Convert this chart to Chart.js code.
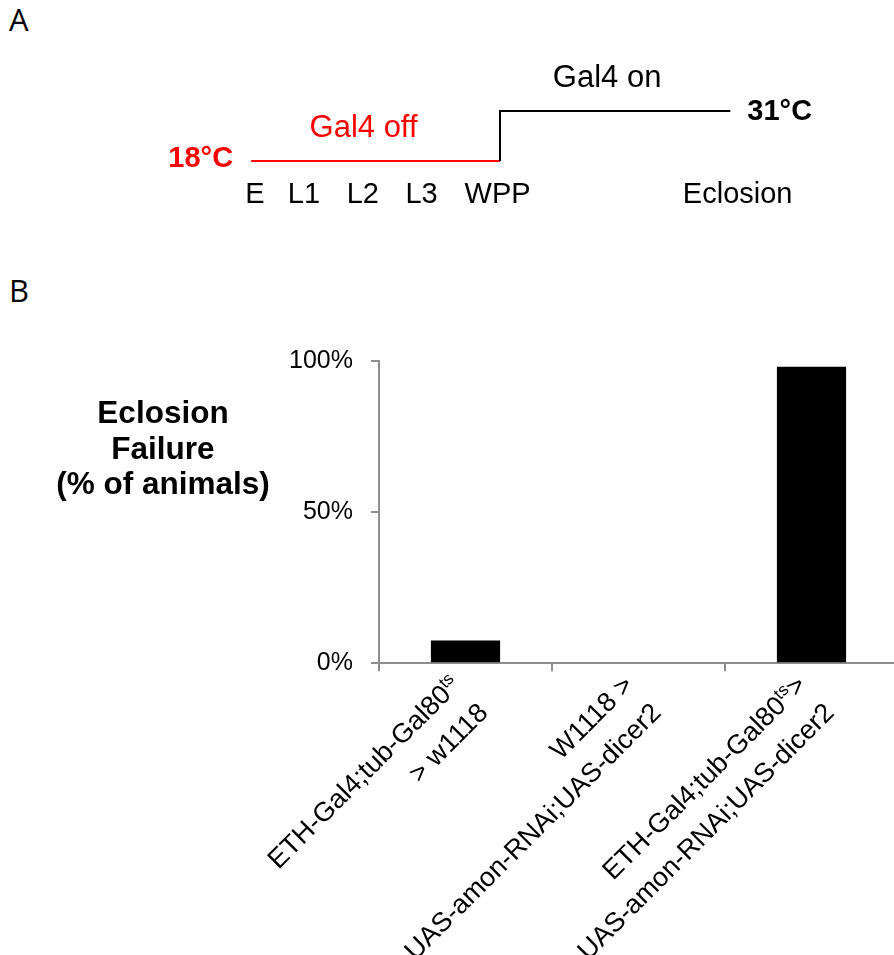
<!DOCTYPE html>
<html>
<head>
<meta charset="utf-8">
<script src="https://cdn.jsdelivr.net/npm/chart.js@4.4.1/dist/chart.umd.min.js"></script>
<style>
    html, body { margin: 0; padding: 0; background: #fff; overflow: hidden; }
    #pagina { position: relative; width: 894px; height: 955px; overflow: hidden; }
    .painel { position: absolute; left: 9px; font-family: "Open Sans", sans-serif; font-size: 31px; line-height: 1; color: #000; }
    #cronograma { position: absolute; left: 0; top: 0; }
    #eclosao { position: absolute; left: 0; top: 240px; }
</style>
</head>
<body>
<div id="pagina">
    <div class="painel" style="top: 4px;">A</div>
    <canvas id="cronograma" width="894" height="240"></canvas>
    <div class="painel" style="top: 275px;">B</div>
    <canvas id="eclosao" width="900" height="715"></canvas>
</div>
<script>
// painel A: temperatura ao longo do desenvolvimento
const estagios = ["E", "L1", "L2", "L3", "WPP", "Eclosion"];
const posicaoEstagios = [0, 1, 2.2, 3.4, 4.95, 9.85];
const tempoLinha = [-0.08, 5, 5, 9.7];
const temperatura = [18, 18, 31, 31];
const rotulosTemperatura = ["18°C", "31°C"];
const rotulosFase = ["Gal4 off", "Gal4 on"];

// painel B: falha de eclosão por genótipo
const genotipos = [
    ["ETH-Gal4;tub-Gal80<sup>ts</sup>", "> w1118"],
    ["W1118 >", "UAS-amon-RNAi;UAS-dicer2"],
    ["ETH-Gal4;tub-Gal80<sup>ts</sup>>", "UAS-amon-RNAi;UAS-dicer2"],
];
const falhaEclosao = [7.5, 0, 98];
const ticksY = [0, 50, 100];
const tituloEixoY = ["Eclosion", "Failure", "(% of animals)"];

const FONTE = '"Liberation Sans", Arial, sans-serif';
const VERMELHO = "#ff0000";
const CINZA = "#8e8e8e";
const ALTURA_LINHA = 39;

const rotulosCronograma = {
    id: "rotulosCronograma",
    afterDatasetsDraw(chart) {
        const ctx = chart.ctx;
        const pts = chart.getDatasetMeta(0).data;
        ctx.save();
        ctx.textBaseline = "middle";
        ctx.font = `bold 29px ${FONTE}`;
        ctx.fillStyle = VERMELHO;
        ctx.textAlign = "right";
        ctx.fillText(rotulosTemperatura[0], pts[0].x - 18, pts[0].y - 2);
        ctx.fillStyle = "#000";
        ctx.textAlign = "left";
        ctx.fillText(rotulosTemperatura[1], pts[3].x + 17, pts[3].y + 1);

        ctx.font = `31px ${FONTE}`;
        ctx.textAlign = "center";
        ctx.fillStyle = VERMELHO;
        ctx.fillText(rotulosFase[0], (pts[0].x + pts[1].x) / 2 - 12, pts[1].y - 33);
        ctx.fillStyle = "#000";
        ctx.fillText(rotulosFase[1], (pts[2].x + pts[3].x) / 2 - 8, pts[2].y - 33);
        ctx.restore();
    },
};

function limparTexto(linha) {
    return linha.replace(/<\/?sup>/g, "");
}

function desenharLinha(ctx, linha) {
    const partes = linha.split(/<sup>(.*?)<\/sup>/);
    const fontes = partes.map((_, i) => (i % 2 ? `17px ${FONTE}` : `27px ${FONTE}`));
    let total = 0;
    const larguras = partes.map((p, i) => {
        ctx.font = fontes[i];
        const w = ctx.measureText(p).width;
        total += w;
        return w;
    });
    let x = -total;
    ctx.textAlign = "left";
    ctx.textBaseline = "middle";
    partes.forEach((p, i) => {
        ctx.font = fontes[i];
        ctx.fillText(p, x, i % 2 ? -7 : 0);
        x += larguras[i];
    });
}

const rotulosEixos = {
    id: "rotulosEixos",
    afterDraw(chart) {
        const ctx = chart.ctx;
        const area = chart.chartArea;
        ctx.save();
        ctx.fillStyle = "#000";
        ctx.font = `bold 31.5px ${FONTE}`;
        ctx.textAlign = "center";
        ctx.textBaseline = "alphabetic";
        tituloEixoY.forEach((t, i) => {
            ctx.fillText(t, area.left - 216, area.top + 62 + i * 35.8);
        });

        const escalaX = chart.scales.x;
        const yBase = escalaX.top + 18;
        genotipos.forEach((linhas, i) => {
            const px = escalaX.getPixelForValue(i) - 9;
            linhas.forEach((linha, j) => {
                ctx.save();
                ctx.translate(px + j * ALTURA_LINHA * Math.SQRT1_2, yBase + j * ALTURA_LINHA * Math.SQRT1_2);
                ctx.rotate(-Math.PI / 4);
                desenharLinha(ctx, linha);
                ctx.restore();
            });
        });
        ctx.restore();
    },
};

new Chart(document.getElementById("cronograma"), {
    type: "line",
    data: {
        datasets: [
            {
                data: tempoLinha.map((t, i) => ({ x: t, y: temperatura[i] })),
                borderColor: "#000",
                borderWidth: 2,
                pointRadius: 0,
                segment: {
                    borderColor: (ctx) =>
                        ctx.p0.parsed.y === temperatura[0] && ctx.p1.parsed.y === temperatura[0]
                            ? VERMELHO
                            : "#000",
                },
            },
        ],
    },
    options: {
        responsive: false,
        animation: false,
        plugins: { legend: { display: false }, tooltip: { enabled: false } },
        layout: { padding: { left: 157, right: 100, top: 99.5, bottom: 0 } },
        scales: {
            x: {
                type: "linear",
                min: -2,
                max: 11,
                border: { display: false },
                grid: { display: false, drawTicks: false },
                afterBuildTicks: (s) => {
                    s.ticks = posicaoEstagios.map((v) => ({ value: v }));
                },
                afterFit: (s) => {
                    s.height = 71.3;
                },
                ticks: {
                    autoSkip: false,
                    maxRotation: 0,
                    padding: 8.5,
                    color: "#000",
                    font: { family: FONTE, size: 29 },
                    callback: (v, i) => estagios[i],
                },
            },
            y: { display: false, min: 16, max: 34 },
        },
    },
    plugins: [rotulosCronograma],
});

new Chart(document.getElementById("eclosao"), {
    type: "bar",
    data: {
        labels: genotipos.map((l) => l.map(limparTexto)),
        datasets: [
            {
                data: falhaEclosao,
                backgroundColor: "#000",
                barPercentage: 0.4,
                categoryPercentage: 1,
            },
        ],
    },
    options: {
        responsive: false,
        animation: false,
        plugins: { legend: { display: false }, tooltip: { enabled: false } },
        layout: { padding: { left: 0, right: 2, top: 120.7, bottom: 0 } },
        scales: {
            x: {
                grid: { offset: true, drawOnChartArea: false, color: CINZA, lineWidth: 2, tickLength: 8 },
                border: { color: CINZA, width: 2 },
                ticks: { display: false },
                afterFit: (s) => {
                    s.height = 291.7;
                },
            },
            y: {
                min: 0,
                max: 100,
                afterBuildTicks: (s) => {
                    s.ticks = ticksY.map((v) => ({ value: v }));
                },
                afterFit: (s) => {
                    s.width = 379;
                },
                grid: { drawOnChartArea: false, color: CINZA, lineWidth: 2, tickLength: 8 },
                border: { color: CINZA, width: 2 },
                ticks: {
                    padding: 18,
                    color: "#000",
                    font: { family: FONTE, size: 25 },
                    callback: (v) => v + "%",
                },
            },
        },
    },
    plugins: [rotulosEixos],
});
</script>
</body>
</html>
